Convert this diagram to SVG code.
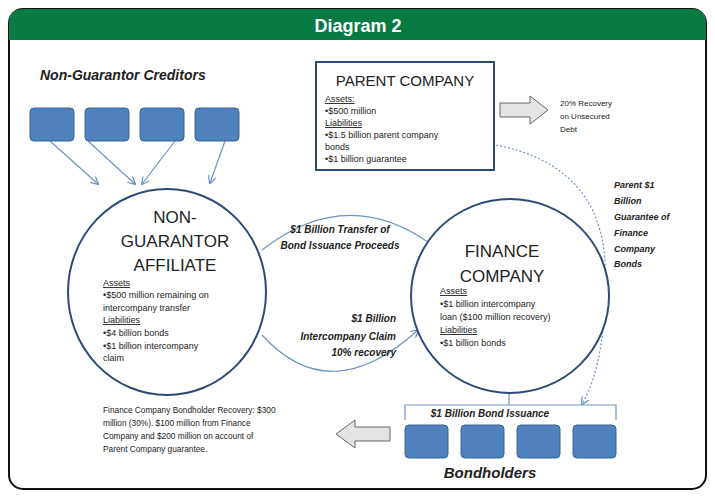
<svg xmlns="http://www.w3.org/2000/svg" width="715" height="499" viewBox="0 0 715 499">
<defs>
<style>
.t{font-family:"Liberation Sans",Arial,sans-serif;fill:#222}
.s{font-size:9px}
.bi{font-weight:bold;font-style:italic}
.big{font-size:17px}
.box{fill:#4f81bd;stroke:#3a6596;stroke-width:1}
.ln{fill:none;stroke:#6f93c4;stroke-width:1.2}
.circ{fill:#fff;stroke:#2e4a78;stroke-width:2}
.ga{fill:#e4e4e4;stroke:#666;stroke-width:1}
</style>
<marker id="ah" markerWidth="8" markerHeight="8" refX="7" refY="4" orient="auto" markerUnits="userSpaceOnUse"><path d="M0,0 L8,4 L0,8" fill="none" stroke="#6f93c4" stroke-width="1.2"/></marker>
<marker id="ahd" markerWidth="8" markerHeight="8" refX="7" refY="4" orient="auto" markerUnits="userSpaceOnUse"><path d="M0,0 L8,4 L0,8" fill="none" stroke="#6f93c4" stroke-width="1.2"/></marker>
</defs>
<rect x="0" y="0" width="715" height="499" fill="#fff"/>
<rect x="9" y="9" width="697" height="480" rx="14" fill="#fff" stroke="#111" stroke-width="2"/>
<path d="M9,40 V23 Q9,9 23,9 H692 Q706,9 706,23 V40 Z" fill="#0a7a45"/>
<text x="358" y="32" text-anchor="middle" font-family="Liberation Sans Narrow,Liberation Sans,sans-serif" font-weight="bold" font-size="18" fill="#fff">Diagram 2</text>

<g id="connectors">
<line class="ln" x1="50" y1="141" x2="98" y2="184" marker-end="url(#ah)"/>
<line class="ln" x1="88" y1="141" x2="135" y2="184" marker-end="url(#ah)"/>
<line class="ln" x1="175" y1="141" x2="142" y2="184" marker-end="url(#ah)"/>
<line class="ln" x1="225" y1="141" x2="210" y2="183" marker-end="url(#ah)"/>
<path class="ln" d="M262,250 Q345,185 428,242"/>
<path class="ln" d="M262,335 Q330,410 418,330" marker-end="url(#ah)"/>
<path class="ln" d="M496,145 Q598,165 605,260 Q608,360 582,404" stroke-dasharray="2,2" marker-end="url(#ahd)"/>
<path class="ln" d="M509,383 V405"/>
<path class="ln" d="M405,420 V405 H616 V420"/>
</g>

<g id="ng-creditors">
<text class="t bi" x="40" y="80" font-size="14">Non-Guarantor Creditors</text>
<rect class="box" x="30" y="108" width="44" height="33" rx="4"/>
<rect class="box" x="85" y="108" width="44" height="33" rx="4"/>
<rect class="box" x="140" y="108" width="44" height="33" rx="4"/>
<rect class="box" x="195" y="108" width="44" height="33" rx="4"/>
</g>

<g id="parent">
<rect x="316" y="62" width="178" height="108" fill="#fff" stroke="#2e4a78" stroke-width="2"/>
<text class="t" x="405" y="86" text-anchor="middle" font-size="15">PARENT COMPANY</text>
<g class="t s">
<text x="325" y="102" text-decoration="underline">Assets:</text>
<text x="325" y="114">•$500 million</text>
<text x="325" y="126" text-decoration="underline">Liabilities</text>
<text x="325" y="138">•$1.5 billion parent company</text>
<text x="325" y="150">bonds</text>
<text x="325" y="162">•$1 billion guarantee</text>
</g>
</g>

<g id="recovery-arrow">
<path class="ga" d="M500,103 H530 V96 L548,110 L530,124 V117 H500 Z"/>
<g class="t" font-size="8">
<text x="560" y="106">20% Recovery</text>
<text x="560" y="119">on Unsecured</text>
<text x="560" y="132">Debt</text>
</g>
</g>

<g id="guarantee-label" class="t bi" font-size="9">
<text x="614" y="188">Parent $1</text>
<text x="614" y="204">Billion</text>
<text x="614" y="220">Guarantee of</text>
<text x="614" y="236">Finance</text>
<text x="614" y="252">Company</text>
<text x="614" y="267">Bonds</text>
</g>

<g id="affiliate">
<ellipse class="circ" cx="167" cy="292" rx="99" ry="103"/>
<g class="t big" text-anchor="middle">
<text x="175" y="223">NON-</text>
<text x="175" y="247">GUARANTOR</text>
<text x="175" y="271">AFFILIATE</text>
</g>
<g class="t s">
<text x="103" y="286" text-decoration="underline">Assets</text>
<text x="103" y="298">•$500 million remaining on</text>
<text x="103" y="311">intercompany transfer</text>
<text x="103" y="323" text-decoration="underline">Liabilities</text>
<text x="103" y="336">•$4 billion bonds</text>
<text x="103" y="349">•$1 billion intercompany</text>
<text x="103" y="361">claim</text>
</g>
</g>

<g id="finance">
<ellipse class="circ" cx="510" cy="296" rx="99" ry="97"/>
<g class="t big" text-anchor="middle">
<text x="502" y="257">FINANCE</text>
<text x="502" y="282">COMPANY</text>
</g>
<g class="t s">
<text x="440" y="294" text-decoration="underline">Assets</text>
<text x="440" y="307">•$1 billion intercompany</text>
<text x="440" y="320">loan ($100 million recovery)</text>
<text x="440" y="333" text-decoration="underline">Liabilities</text>
<text x="440" y="346">•$1 billion bonds</text>
</g>
</g>

<g id="transfer-label" class="t bi" font-size="10" text-anchor="middle">
<text x="340" y="233">$1 Billion Transfer of</text>
<text x="340" y="249">Bond Issuance Proceeds</text>
</g>
<g id="claim-label" class="t bi" font-size="10" text-anchor="end">
<text x="396" y="322">$1 Billion</text>
<text x="396" y="340">Intercompany Claim</text>
<text x="396" y="356">10% recovery</text>
</g>

<g id="bondholders">
<text class="t bi" x="490" y="417" text-anchor="middle" font-size="10">$1 Billion Bond Issuance</text>
<rect class="box" x="405" y="425" width="43" height="33" rx="4"/>
<rect class="box" x="461" y="425" width="43" height="33" rx="4"/>
<rect class="box" x="517" y="425" width="43" height="33" rx="4"/>
<rect class="box" x="573" y="425" width="43" height="33" rx="4"/>
<text class="t bi" x="490" y="478" text-anchor="middle" font-size="15">Bondholders</text>
</g>

<g id="bond-recovery">
<path class="ga" d="M390,427 H355 V420 L336,434 L355,448 V441 H390 Z"/>
<g class="t" font-size="8.3">
<text x="103" y="413">Finance Company Bondholder Recovery:  $300</text>
<text x="103" y="426">million (30%). $100 million from Finance</text>
<text x="103" y="439">Company and $200 million on account of</text>
<text x="103" y="452">Parent Company guarantee.</text>
</g>
</g>
</svg>
